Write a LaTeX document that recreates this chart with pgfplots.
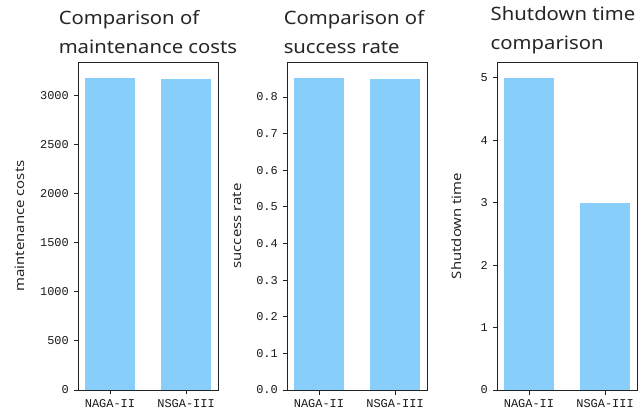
\documentclass[border=0pt]{standalone}
\usepackage{fontspec}
\usepackage{pgfplots}
\pgfplotsset{compat=1.18}
\newfontfamily\titlefont[FakeStretch=1.1]{Noto Sans}
\newfontfamily\labfont[FakeStretch=1.15]{Noto Sans}
\newfontfamily\monofont{Liberation Mono}
\definecolor{barblue}{HTML}{87CEFA}
\definecolor{axcol}{HTML}{222222}
\pgfplotsset{
  myaxis/.style={
    scale only axis, width=140bp, height=328bp,
    xmin=-0.42, xmax=1.42, ymin=0,
    xtick={0,1}, xticklabels={NAGA-II,NSGA-III},
    tick align=outside, major tick length=4.5bp,
    axis line style={axcol, line width=0.9bp},
    every tick/.style={axcol, line width=0.9bp},
    ytick pos=left, xtick pos=bottom,
    /pgf/number format/assume math mode=true,
    /pgf/number format/1000 sep={},
    ticklabel style={font=\monofont\fontsize{12}{12}\selectfont, text=black!90},
    yticklabel style={inner sep=4.5bp},
    xticklabel style={inner sep=5bp},
    every axis title/.style={at={(axis description cs:0.5,1)}, anchor=south, inner sep=0pt, yshift=8bp, align=left, font=\titlefont\fontsize{18.5}{29}\selectfont, text=black!85},
    every axis y label/.style={at={(axis description cs:0,0.5)}, rotate=90, anchor=center, font=\labfont\fontsize{13}{13}\selectfont, text=black!85},
    bar width=0.67,
  },
  mybar/.style={ybar, fill=barblue, draw=white, line width=0.6bp},
}
\begin{document}
\begin{tikzpicture}
\path[use as bounding box] (0,0) rectangle (640bp,416bp);
\begin{axis}[myaxis, at={(78bp,26bp)}, anchor=south west,
  ymax=3339, ytick={0,500,1000,1500,2000,2500,3000},
  title={Comparison of\\maintenance costs},
  ylabel={maintenance costs}, ylabel style={yshift=58bp}]
\addplot[mybar] coordinates {(0,3180) (1,3170)};
\end{axis}
\begin{axis}[myaxis, at={(287bp,26bp)}, anchor=south west,
  ymax=0.8957, ytick={0,0.1,0.2,0.3,0.4,0.5,0.6,0.7,0.8},
  yticklabel style={/pgf/number format/.cd, fixed, fixed zerofill, precision=1},
  title={Comparison of\\success rate}, title style={xshift=-3bp},
  ylabel={success rate}, ylabel style={yshift=50bp}]
\addplot[mybar] coordinates {(0,0.853) (1,0.850)};
\end{axis}
\begin{axis}[myaxis, at={(497bp,26bp)}, anchor=south west,
  ymax=5.25, ytick={0,1,2,3,4,5},
  title={Shutdown time\\comparison}, title style={xshift=-4bp},
  ylabel={Shutdown time}, ylabel style={yshift=40bp}]
\addplot[mybar] coordinates {(0,5) (1,3)};
\end{axis}
\end{tikzpicture}
\end{document}
